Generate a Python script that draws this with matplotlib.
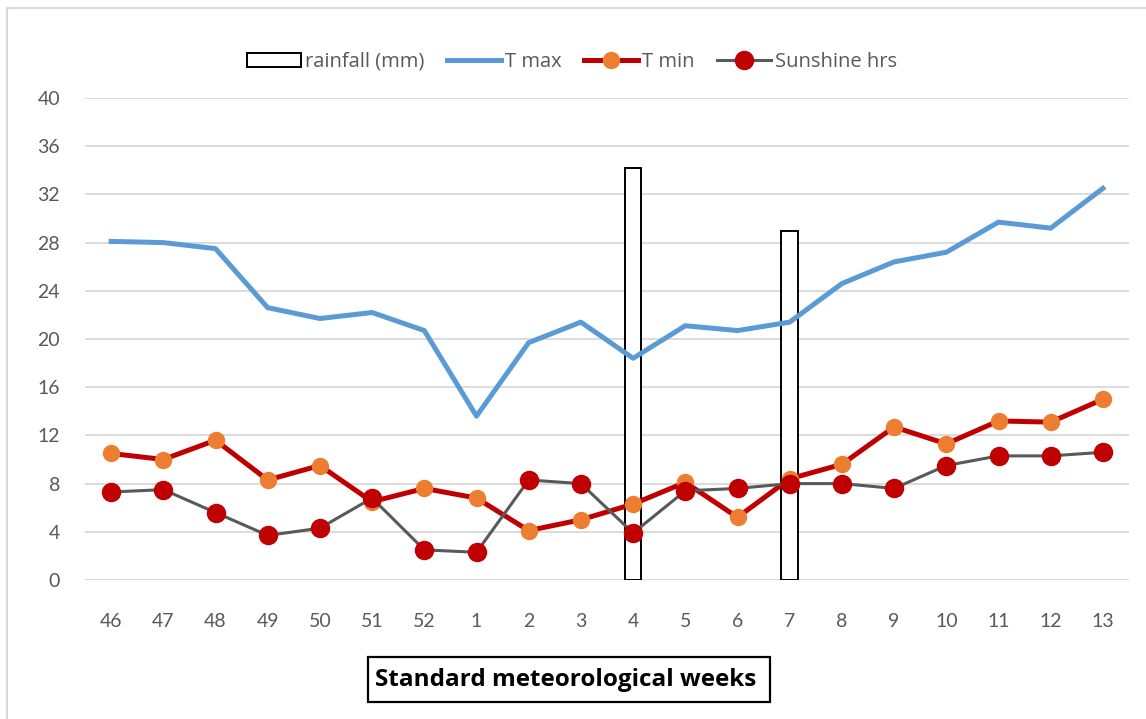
import matplotlib
matplotlib.use("Agg")
import matplotlib.pyplot as plt
import numpy as np
from matplotlib.patches import Rectangle, Patch
from matplotlib.lines import Line2D

weeks = ["46", "47", "48", "49", "50", "51", "52", "1", "2", "3",
         "4", "5", "6", "7", "8", "9", "10", "11", "12", "13"]
rainfall = [0, 0, 0, 0, 0, 0, 0, 0, 0, 0,
            34.2, 0, 0, 29.0, 0, 0, 0, 0, 0, 0]
t_max = [28.1, 28.0, 27.5, 22.6, 21.7, 22.2, 20.7, 13.6, 19.7, 21.4,
         18.4, 21.1, 20.7, 21.4, 24.6, 26.4, 27.2, 29.7, 29.2, 32.5]
t_min = [10.5, 10.0, 11.6, 8.3, 9.5, 6.5, 7.6, 6.8, 4.1, 5.0,
         6.3, 8.1, 5.2, 8.4, 9.6, 12.7, 11.3, 13.2, 13.1, 15.0]
sunshine = [7.3, 7.5, 5.6, 3.7, 4.3, 6.8, 2.5, 2.3, 8.3, 8.0,
            3.9, 7.4, 7.6, 8.0, 8.0, 7.6, 9.5, 10.3, 10.3, 10.6]
y_ticks = [0, 4, 8, 12, 16, 20, 24, 28, 32, 36, 40]

plt.rcParams['font.family'] = ['Lato', 'DejaVu Sans']

W, H = 1146, 719
fig = plt.figure(figsize=(W / 100, H / 100), dpi=100)
ax = fig.add_axes([85 / W, 1 - 580 / H, (1129 - 85) / W, (580 - 98) / H])

x = np.arange(len(weeks))
gray = '#595959'

# rainfall bars (only nonzero weeks visible)
rx = [xi for xi, r in zip(x, rainfall) if r > 0]
rv = [r for r in rainfall if r > 0]
ax.bar(rx, rv, width=0.32, color='white', edgecolor='black', linewidth=1.4, zorder=2)

ax.plot(x, t_max, color='#5B9BD5', lw=3.6, zorder=3)
ax.plot(x, t_min, color='#C00000', lw=3.6, marker='o', ms=11.5,
        mfc='#ED7D31', mec='#ED7D31', zorder=4)
ax.plot(x, sunshine, color=gray, lw=2.2, marker='o', ms=13,
        mfc='#C00000', mec='#C00000', zorder=5)

ax.set_xlim(-0.5, len(weeks) - 0.5)
ax.set_ylim(0, 40)
ax.set_yticks(y_ticks)
ax.set_xticks(x)
ax.set_xticklabels(weeks)
ax.grid(axis='y', color='#D9D9D9', lw=1.3, zorder=0)
ax.set_axisbelow(True)
for s in ax.spines.values():
    s.set_visible(False)
ax.tick_params(axis='both', length=0, labelsize=14, labelcolor=gray)
ax.tick_params(axis='y', pad=18)
ax.tick_params(axis='x', pad=24)

handles = [
    Patch(facecolor='white', edgecolor='black', linewidth=1.4),
    Line2D([], [], color='#5B9BD5', lw=3.6),
    Line2D([], [], color='#C00000', lw=3.6, marker='o', ms=11.5, mfc='#ED7D31', mec='#ED7D31'),
    Line2D([], [], color=gray, lw=2.2, marker='o', ms=13, mfc='#C00000', mec='#C00000'),
]
labels = ['rainfall (mm)', 'T max', 'T min', 'Sunshine hrs']
leg = fig.legend(handles, labels, loc='center', bbox_to_anchor=(572 / W, 1 - 62 / H),
                 ncol=4, frameon=False, handlelength=2.7,
                 handletextpad=0.2, columnspacing=1.1, handleheight=0.7,
                 prop={'family': ['Open Sans', 'DejaVu Sans'], 'size': 14.5})
for t in leg.get_texts():
    t.set_color(gray)

# x-axis title in a box
fig.patches.append(Rectangle((368 / W, 1 - 702 / H), 402 / W, 45 / H,
                             transform=fig.transFigure, fill=False,
                             edgecolor='black', lw=1.6))
fig.text(566 / W, 1 - 680 / H, 'Standard meteorological weeks', ha='center', va='center',
         fontsize=17.5, fontweight='bold', color='black',
         family=['Open Sans', 'DejaVu Sans'])

# outer chart border
fig.patches.append(Rectangle((7 / W, -0.05), 1.1, 1 - 8 / H + 0.05,
                             transform=fig.transFigure, fill=False,
                             edgecolor='#D9D9D9', lw=1.5))

fig.savefig('out.png', dpi=100)
